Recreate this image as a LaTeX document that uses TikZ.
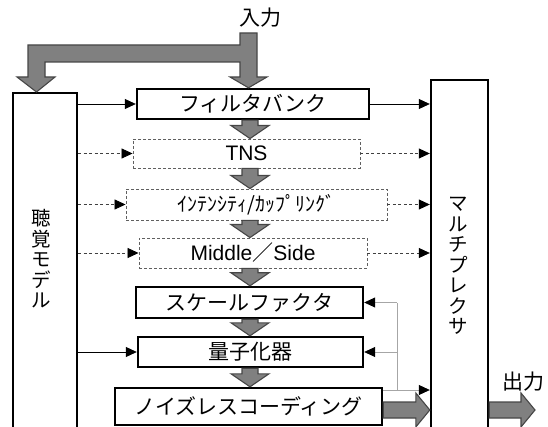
\documentclass[tikz,border=0pt]{standalone}
\usepackage{fontspec}
\setmainfont{Noto Sans CJK JP}
\newfontfamily\latinf{Liberation Sans}
\usetikzlibrary{arrows.meta,calc}
\newcommand\fatdown[2]{%
  \filldraw[fatarr] ($(ax|-#1.south)+(-8,0)$) -- ($(ax|-#2.north)+(-8,-13)$) -- ($(ax|-#2.north)+(-19,-13)$)
    -- (ax|-#2.north) -- ($(ax|-#2.north)+(19,-13)$) -- ($(ax|-#2.north)+(8,-13)$)
    -- ($(ax|-#1.south)+(8,0)$) -- cycle;}
\begin{document}
\begin{tikzpicture}[x=1pt,y=-1pt,
  solidbox/.style={draw=black,line width=2.4pt,inner sep=0pt,fill=white,font=\fontsize{21}{25}\selectfont},
  dashbox/.style={draw=gray!75!black,line width=0.9pt,dash pattern=on 3pt off 2pt,inner sep=0pt,fill=white,font=\fontsize{21}{25}\selectfont},
  tallbox/.style={draw=black,line width=2.4pt,inner sep=0pt,fill=white},
  vtxt/.style={align=center,inner sep=0pt,font=\fontsize{19.5}{20.5}\selectfont},
  lbl/.style={inner sep=0pt,font=\fontsize{21}{25}\selectfont},
  thinarr/.style={draw=black,line width=0.8pt,-{Triangle[length=11pt,width=10pt,color=black]}},
  dasharr/.style={thinarr,draw=gray!50!black,dash pattern=on 3pt off 2.5pt},
  fbline/.style={draw=gray!70,line width=0.8pt},
  fbarr/.style={thinarr,draw=gray!70},
  fatarr/.style={fill=gray,draw=gray!55!black,line width=1.1pt,line join=miter}
]
\useasboundingbox (0,0) rectangle (548,427);
\coordinate (ax) at (250,0);
\coordinate (ax2) at (248.5,0);
\coordinate (oy) at (0,410);
\coordinate (fbk) at (397,390);
\coordinate (outtip) at (535,410);

% tall boxes
\node[tallbox,minimum width=64pt,minimum height=350pt] (aud) at (45,268) {};
\node[vtxt] (audlbl) at (41,259) {聴\\覚\\モ\\デ\\ル};
\node[tallbox,minimum width=57pt,minimum height=362pt] (mux) at (459.5,261) {};
\node[vtxt] (muxlbl) at (458,266) {マ\\ル\\チ\\プ\\レ\\ク\\サ};

% process boxes
\node[solidbox,minimum width=232pt,minimum height=30pt] (fb) at (253,104) {フィルタバンク};
\node[dashbox,minimum width=227pt,minimum height=29pt] (tns) at (246.5,153.5) {\latinf TNS};
\node[dashbox,minimum width=261pt,minimum height=31pt] (int) at (256.5,204.5) {\fontsize{20}{25}\selectfont ｲﾝﾃﾝｼﾃｨ/ｶｯﾌﾟﾘﾝｸﾞ};
\node[dashbox,minimum width=228pt,minimum height=30pt] (ms) at (253,253) {{\latinf Middle}／{\latinf Side}};
\node[solidbox,minimum width=227pt,minimum height=31pt] (sf) at (249.5,302.5) {スケールファクタ};
\node[solidbox,minimum width=225pt,minimum height=30pt] (qz) at (250.5,352) {量子化器};
\node[solidbox,minimum width=267pt,minimum height=37pt] (nc) at (248.5,406.5) {ノイズレスコーディング};

% labels
\node[lbl] (inp) at (260,18) {入力};
\node[lbl] (outp) at (523,382) {出力};

% input fat arrow
\filldraw[fatarr] (240,33) -- (257,33) -- (257,77) -- (267,77) -- (ax2|-fb.north) -- (230,77) -- (240,77)
  -- (240,62) -- (45,62) -- (45,77) -- (55,77) -- (36.5,92) -- (17,77) -- (28,77) -- (28,45) -- (240,45) -- cycle;

% vertical fat arrows
\fatdown{fb}{tns}
\fatdown{tns}{int}
\fatdown{int}{ms}
\fatdown{ms}{sf}
\fatdown{sf}{qz}
\fatdown{qz}{nc}

% left side arrows
\draw[thinarr] (aud.east|-fb.west) -- (fb.west);
\draw[dasharr] (aud.east|-tns.west) -- (tns.west);
\draw[dasharr] (aud.east|-int.west) -- (int.west);
\draw[dasharr] (aud.east|-ms.west) -- (ms.west);
\draw[thinarr] (aud.east|-qz.west) -- (qz.west);

% right side arrows
\draw[thinarr] (fb.east) -- (mux.west|-fb.east);
\draw[dasharr] (tns.east) -- (mux.west|-tns.east);
\draw[dasharr] (int.east) -- (mux.west|-int.east);
\draw[dasharr] (ms.east) -- (mux.west|-ms.east);

% feedback
\draw[fbline] (fbk) -- (fbk|-sf.east);
\draw[fbarr] (fbk|-sf.east) -- (sf.east);
\draw[fbarr] (fbk|-qz.east) -- (qz.east);
\draw[fbarr] (nc.east|-fbk) -- (mux.west|-fbk);

% output fat arrows
\filldraw[fatarr] ($(nc.east|-oy)+(0,-8)$) -- ($(mux.west|-oy)+(-14,-8)$) -- ($(mux.west|-oy)+(-14,-17)$)
  -- (mux.west|-oy) -- ($(mux.west|-oy)+(-14,17)$) -- ($(mux.west|-oy)+(-14,8)$) -- ($(nc.east|-oy)+(0,8)$) -- cycle;
\filldraw[fatarr] ($(mux.east|-oy)+(0,-8)$) -- ($(outtip)+(-14,-8)$) -- ($(outtip)+(-14,-17)$)
  -- (outtip) -- ($(outtip)+(-14,17)$) -- ($(outtip)+(-14,8)$) -- ($(mux.east|-oy)+(0,8)$) -- cycle;
\end{tikzpicture}
\end{document}
